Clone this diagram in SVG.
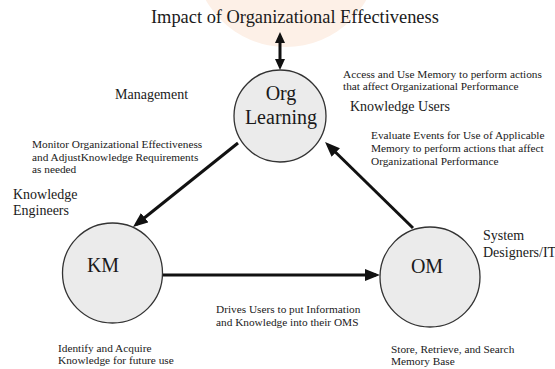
<svg xmlns="http://www.w3.org/2000/svg" width="555" height="369" viewBox="0 0 555 369">
  <style>
    .t { font-family: "Liberation Serif", "Times New Roman", serif; fill: #1a1a1a; }
    .s { font-size: 11.3px; }
    .m { font-size: 14px; }
    .n { font-size: 20px; text-anchor: middle; }
    .node { fill: #ebebeb; stroke: #333333; stroke-width: 1.3; }
    .edge { fill: none; stroke: #111111; stroke-width: 3; }
  </style>
  <defs>
    <marker id="ah" markerUnits="userSpaceOnUse" markerWidth="16" markerHeight="14" refX="11" refY="6" orient="auto-start-reverse">
      <path d="M0,0 L15,6 L0,12 z" fill="#111111"/>
    </marker>
    <marker id="ahs" markerUnits="userSpaceOnUse" markerWidth="12" markerHeight="12" refX="7" refY="5" orient="auto-start-reverse">
      <path d="M0,0 L11,5 L0,10 z" fill="#111111"/>
    </marker>
  </defs>
  <rect width="555" height="369" fill="#ffffff"/>

  <g id="background">
    <circle cx="286" cy="-45" r="92" fill="#fdf0e7"/>
  </g>

  <text class="t" x="151" y="23" font-size="18.4">Impact of Organizational Effectiveness</text>

  <g id="connectors">
    <path class="edge" d="M280,36 L280,66" marker-start="url(#ahs)" marker-end="url(#ahs)"/>
    <path class="edge" d="M238,143 L136.1,224.5" marker-end="url(#ah)"/>
    <path class="edge" d="M413,228 L327.9,144.8" marker-end="url(#ah)"/>
    <path class="edge" d="M163,275 L376,275" marker-end="url(#ah)"/>
  </g>

  <g id="org-learning">
    <circle class="node" cx="280" cy="116" r="46"/>
    <text class="t n" x="281" y="100">Org</text>
    <text class="t n" x="281" y="124">Learning</text>
  </g>

  <g id="km">
    <circle class="node" cx="112.5" cy="273" r="50"/>
    <text class="t n" x="103" y="272">KM</text>
  </g>

  <g id="om">
    <circle class="node" cx="430" cy="277" r="50"/>
    <text class="t n" x="427" y="273">OM</text>
  </g>

  <g id="labels">
    <text class="t m" x="115" y="99">Management</text>
    <text class="t s" x="343" y="78">Access and Use Memory to perform actions</text>
    <text class="t s" x="343" y="90">that affect Organizational Performance</text>
    <text class="t m" x="350" y="111">Knowledge Users</text>
    <text class="t s" x="371" y="139">Evaluate Events for Use of Applicable</text>
    <text class="t s" x="371" y="152">Memory to perform actions that affect</text>
    <text class="t s" x="371" y="165">Organizational Performance</text>
    <text class="t s" x="32" y="148">Monitor Organizational Effectiveness</text>
    <text class="t s" x="32" y="161">and AdjustKnowledge Requirements</text>
    <text class="t s" x="32" y="173">as needed</text>
    <text class="t m" x="13" y="199">Knowledge</text>
    <text class="t m" x="13" y="215">Engineers</text>
    <text class="t m" x="483" y="240">System</text>
    <text class="t m" x="483" y="257">Designers/IT</text>
    <text class="t s" x="216" y="313">Drives Users to put Information</text>
    <text class="t s" x="216" y="326">and Knowledge into their OMS</text>
    <text class="t s" x="58" y="352">Identify and Acquire</text>
    <text class="t s" x="58" y="364">Knowledge for future use</text>
    <text class="t s" x="391" y="353">Store, Retrieve, and Search</text>
    <text class="t s" x="391" y="365">Memory Base</text>
  </g>
</svg>
